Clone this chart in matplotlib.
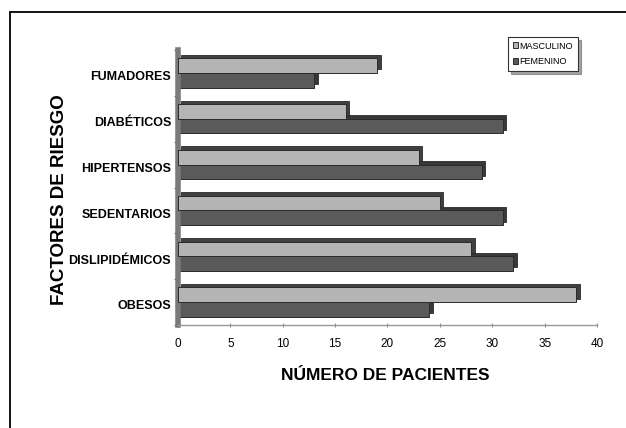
import matplotlib
matplotlib.use("Agg")
import matplotlib.pyplot as plt
import matplotlib.transforms as mtransforms
from matplotlib.patches import Rectangle
import numpy as np

categories = ["FUMADORES", "DIABÉTICOS", "HIPERTENSOS", "SEDENTARIOS", "DISLIPIDÉMICOS", "OBESOS"]
masculino = [19, 16, 23, 25, 28, 38]
femenino = [13, 31, 29, 31, 32, 24]
series_names = ["MASCULINO", "FEMENINO"]
xticks = [0, 5, 10, 15, 20, 25, 30, 35, 40]

W, H = 626, 428
fig = plt.figure(figsize=(W / 100, H / 100), dpi=100)
fig.patch.set_facecolor("white")

# outer frame
fig.patches.append(Rectangle((10 / W, -0.1), 1.2, 1 - 12 / H + 0.1, transform=fig.transFigure,
                             fill=False, edgecolor="black", linewidth=1.3, zorder=0))

ax = fig.add_axes([178 / W, 1 - 325 / H, (597 - 178) / W, (325 - 50) / H])
ax.set_facecolor("none")

n = len(categories)
y = np.arange(n)[::-1]
h = 0.32
shift = mtransforms.ScaledTranslation(3.5 / 100, 3.5 / 100, fig.dpi_scale_trans)
shadow_tr = ax.transData + shift

light = "#b4b4b4"
dark = "#5a5a5a"
edge = "#2a2a2a"

# depth (3D) faces
ax.barh(y + h / 2, masculino, height=h, color="#404040", edgecolor=edge, linewidth=0.6,
        transform=shadow_tr, zorder=1)
ax.barh(y - h / 2, femenino, height=h, color="#383838", edgecolor=edge, linewidth=0.6,
        transform=shadow_tr, zorder=1)
# front faces
ax.barh(y + h / 2, masculino, height=h, color=light, edgecolor=edge, linewidth=0.7,
        label=series_names[0], zorder=3)
ax.barh(y - h / 2, femenino, height=h, color=dark, edgecolor=edge, linewidth=0.7,
        label=series_names[1], zorder=2)

ax.set_xlim(0, 40)
ax.set_ylim(-0.5, n - 0.5)
ax.set_xticks(xticks)
ax.set_yticks(y - 0.06)
ax.set_yticklabels(categories)
ax.set_yticks(np.arange(n + 1) - 0.5, minor=True)

narrow = ["Liberation Sans Narrow", "Liberation Sans", "DejaVu Sans"]
for lab in ax.get_yticklabels():
    lab.set_fontfamily(narrow)
    lab.set_fontweight("bold")
    lab.set_fontsize(9)
for lab in ax.get_xticklabels():
    lab.set_fontfamily(narrow)
    lab.set_fontsize(8.5)

ax.tick_params(axis="y", which="major", length=0, pad=5)
ax.tick_params(axis="y", which="minor", length=3, color="#666666", width=0.8)
ax.tick_params(axis="x", which="major", length=3, direction="inout", color="#888888", pad=8)

for s in ["top", "right"]:
    ax.spines[s].set_visible(False)
ax.spines["left"].set_color("#7a7a7a")
ax.spines["left"].set_linewidth(4)
ax.spines["bottom"].set_color("#999999")
ax.spines["bottom"].set_linewidth(1)

fig.text(60 / W, 1 - 200 / H, "FACTORES DE RIESGO", rotation=90, ha="center", va="center",
         fontsize=13.5, fontweight="bold", family=["Liberation Sans", "DejaVu Sans"])
fig.text(385 / W, 1 - 376 / H, "NÚMERO DE PACIENTES", ha="center", va="center",
         fontsize=12.5, fontweight="bold", family=narrow)

leg = ax.legend(loc="upper left", bbox_to_anchor=(508 / W, 1 - 37 / H), bbox_transform=fig.transFigure,
                frameon=True, shadow=True, fancybox=False, borderpad=0.5, labelspacing=0.75,
                handlelength=0.6, handleheight=0.6, handletextpad=0.2, borderaxespad=0,
                prop={"family": narrow, "size": 6.5})
leg.get_frame().set_edgecolor("#333333")
leg.get_frame().set_linewidth(0.8)

fig.savefig("out.png", dpi=100, facecolor="white")
